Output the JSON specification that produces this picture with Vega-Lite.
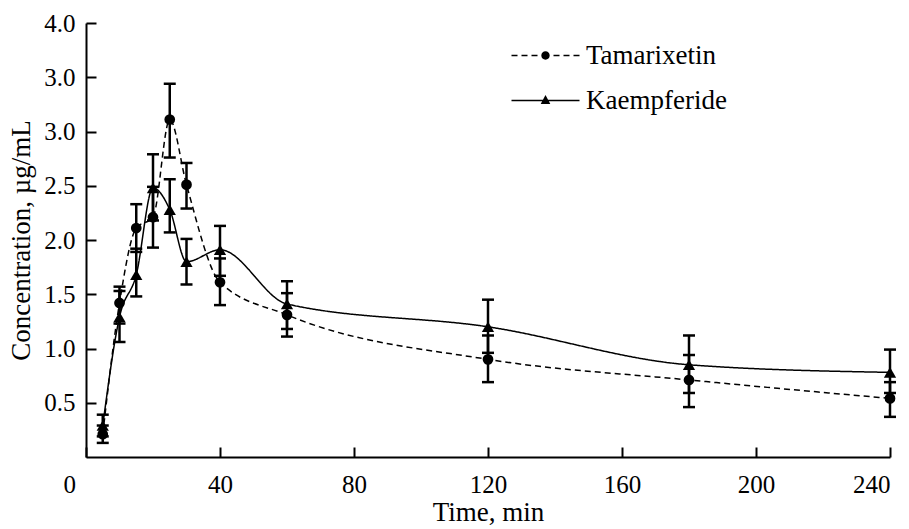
{
  "$schema": "https://vega.github.io/schema/vega-lite/v6.json",
  "autosize": "none",
  "width": 804,
  "height": 434,
  "padding": {"left": 86, "top": 23, "right": 19, "bottom": 72},
  "background": "white",
  "config": {
    "font": "Liberation Serif",
    "view": {"stroke": null},
    "style": {"guide-label": {"font": "Liberation Serif"}, "guide-title": {"font": "Liberation Serif"}},
    "legend": {"labelFont": "Liberation Serif"},
    "axis": {"grid": false, "domainColor": "black", "domainWidth": 2, "tickColor": "black", "tickWidth": 2, "labelColor": "black", "titleColor": "black", "labelFont": "Liberation Serif", "titleFont": "Liberation Serif", "titleFontWeight": "normal"}
  },
  "data": {"values": [
    {"t": 5, "series": "Tamarixetin", "c": 0.21, "lo": 0.13, "hi": 0.29},
    {"t": 10, "series": "Tamarixetin", "c": 1.42, "lo": 1.23, "hi": 1.57},
    {"t": 15, "series": "Tamarixetin", "c": 2.11, "lo": 1.89, "hi": 2.33},
    {"t": 20, "series": "Tamarixetin", "c": 2.21, "lo": 1.93, "hi": 2.49},
    {"t": 25, "series": "Tamarixetin", "c": 3.11, "lo": 2.76, "hi": 3.44},
    {"t": 30, "series": "Tamarixetin", "c": 2.51, "lo": 2.29, "hi": 2.71},
    {"t": 40, "series": "Tamarixetin", "c": 1.61, "lo": 1.40, "hi": 1.83},
    {"t": 60, "series": "Tamarixetin", "c": 1.31, "lo": 1.11, "hi": 1.51},
    {"t": 120, "series": "Tamarixetin", "c": 0.90, "lo": 0.69, "hi": 1.12},
    {"t": 180, "series": "Tamarixetin", "c": 0.71, "lo": 0.46, "hi": 0.94},
    {"t": 240, "series": "Tamarixetin", "c": 0.54, "lo": 0.37, "hi": 0.69},
    {"t": 5, "series": "Kaempferide", "c": 0.29, "lo": 0.19, "hi": 0.39},
    {"t": 10, "series": "Kaempferide", "c": 1.29, "lo": 1.06, "hi": 1.53},
    {"t": 15, "series": "Kaempferide", "c": 1.68, "lo": 1.48, "hi": 1.92},
    {"t": 20, "series": "Kaempferide", "c": 2.48, "lo": 2.18, "hi": 2.79},
    {"t": 25, "series": "Kaempferide", "c": 2.28, "lo": 2.07, "hi": 2.56},
    {"t": 30, "series": "Kaempferide", "c": 1.80, "lo": 1.59, "hi": 2.01},
    {"t": 40, "series": "Kaempferide", "c": 1.91, "lo": 1.67, "hi": 2.13},
    {"t": 60, "series": "Kaempferide", "c": 1.41, "lo": 1.18, "hi": 1.62},
    {"t": 120, "series": "Kaempferide", "c": 1.20, "lo": 0.96, "hi": 1.45},
    {"t": 180, "series": "Kaempferide", "c": 0.85, "lo": 0.59, "hi": 1.12},
    {"t": 240, "series": "Kaempferide", "c": 0.78, "lo": 0.59, "hi": 0.99}
  ]},
  "encoding": {
    "x": {"field": "t", "type": "quantitative",
      "scale": {"domain": [0, 240], "nice": false, "zero": false},
      "axis": {"title": "Time, min", "values": [0, 40, 80, 120, 160, 200, 240], "tickSize": -10, "labelPadding": 25, "labelFont": "Liberation Serif", "labelFontSize": 25, "titleFontSize": 27, "titlePadding": 2,
        "labelOffset": {"condition": {"test": "datum.value == 0", "value": -23}, "value": 0}}},
    "y": {"type": "quantitative",
      "scale": {"domain": [0, 4], "nice": false, "zero": false},
      "axis": {"title": "Concentration, µg/mL", "values": [0.5, 1, 1.5, 2, 2.5, 3, 3.5, 4], "labelExpr": "datum.value == 3.5 ? '3.0' : format(datum.value, '.1f')", "tickSize": -10, "labelPadding": 21, "labelFont": "Liberation Serif", "labelFontSize": 25, "titleFontSize": 27, "titlePadding": 8}}
  },
  "layer": [
    {
      "mark": {"type": "line", "interpolate": "monotone", "color": "black", "strokeWidth": 1.5},
      "encoding": {
        "y": {"field": "c", "type": "quantitative"},
        "detail": {"field": "series"},
        "strokeDash": {"field": "series", "type": "nominal",
          "scale": {"domain": ["Tamarixetin", "Kaempferide"], "range": [[6, 4], [1, 0]]},
          "legend": null}
      }
    },
    {
      "mark": {"type": "errorbar", "color": "black", "opacity": 1, "ticks": {"size": 12, "thickness": 2.5, "color": "black", "opacity": 1}, "rule": {"strokeWidth": 2.5, "color": "black", "opacity": 1}},
      "encoding": {
        "y": {"field": "lo", "type": "quantitative"},
        "y2": {"field": "hi"},
        "detail": {"field": "series"}
      }
    },
    {
      "mark": {"type": "point", "filled": true, "color": "black", "opacity": 1},
      "encoding": {
        "y": {"field": "c", "type": "quantitative"},
        "shape": {"field": "series", "type": "nominal",
          "scale": {"domain": ["Tamarixetin", "Kaempferide"], "range": ["circle", "triangle-up"]},
          "legend": null},
        "size": {"field": "series", "type": "nominal",
          "scale": {"domain": ["Tamarixetin", "Kaempferide"], "range": [115, 150]},
          "legend": null}
      }
    },
    {
      "transform": [{"filter": "false"}],
      "mark": {"type": "point", "filled": true, "color": "black", "size": 400, "opacity": 1, "strokeWidth": 0},
      "encoding": {
        "y": {"field": "c", "type": "quantitative"},
        "shape": {"field": "series", "type": "nominal",
          "scale": {"domain": ["Tamarixetin", "Kaempferide"], "range": [
            "M-3.4,-0.075H-2.8V0.075H-3.4Z M-2.4,-0.075H-1.8V0.075H-2.4Z M-1.4,-0.075H-0.8V0.075H-1.4Z M0.8,-0.075H1.4V0.075H0.8Z M1.8,-0.075H2.4V0.075H1.8Z M2.8,-0.075H3.4V0.075H2.8Z M0.42,0A0.42,0.42,0,1,1,-0.42,0A0.42,0.42,0,1,1,0.42,0Z",
            "M-3.4,-0.075H3.4V0.075H-3.4Z M0,-0.55L0.48,0.35L-0.48,0.35Z"]},
          "legend": {"title": null, "orient": "none", "legendX": 446, "legendY": 19, "symbolSize": 400, "labelFontSize": 27, "labelFont": "Liberation Serif", "labelColor": "black", "labelOffset": 27, "rowPadding": 17, "padding": 0, "symbolStrokeWidth": 0}}
      }
    }
  ],
  "resolve": {"scale": {"shape": "independent"}}
}
